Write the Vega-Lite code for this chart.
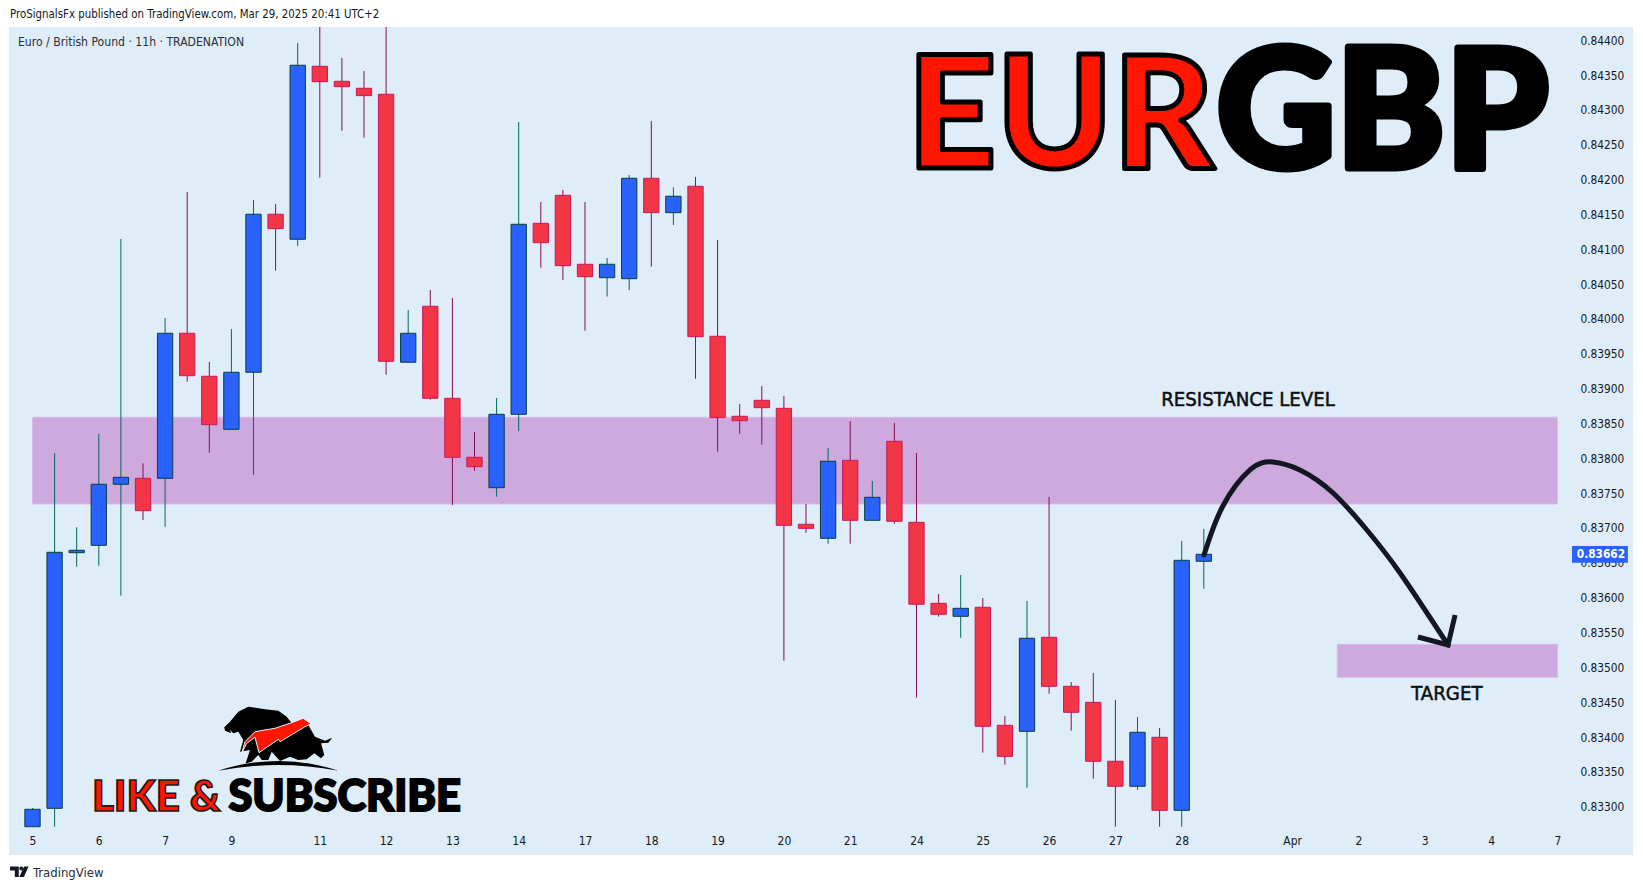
{"$schema":"https://vega.github.io/schema/vega-lite/v6.json","width":1624,"height":828,"padding":{"left":9,"top":27,"right":10,"bottom":35},"autosize":{"type":"none"},"background":"#ffffff","view":{"fill":"#dfedf9","stroke":null},
"datasets":{
"candles":[
{"i":0,"dir":"up","open":0.832713,"close":0.832963,"high":0.832981,"low":0.832713},
{"i":1,"dir":"up","open":0.832977,"close":0.836651,"high":0.838072,"low":0.832713},
{"i":2,"dir":"up","open":0.836645,"close":0.83668,"high":0.83701,"low":0.836444},
{"i":3,"dir":"up","open":0.836751,"close":0.837627,"high":0.838349,"low":0.836459},
{"i":4,"dir":"up","open":0.837627,"close":0.837727,"high":0.841147,"low":0.836028},
{"i":5,"dir":"down","open":0.837713,"close":0.837248,"high":0.837928,"low":0.837114},
{"i":6,"dir":"up","open":0.837713,"close":0.839794,"high":0.840013,"low":0.837018},
{"i":7,"dir":"down","open":0.839794,"close":0.839185,"high":0.841822,"low":0.839099},
{"i":8,"dir":"down","open":0.839177,"close":0.838482,"high":0.839382,"low":0.83808},
{"i":9,"dir":"up","open":0.838416,"close":0.839234,"high":0.839855,"low":0.838416},
{"i":10,"dir":"up","open":0.839234,"close":0.841502,"high":0.841707,"low":0.837765},
{"i":11,"dir":"down","open":0.841502,"close":0.841295,"high":0.841649,"low":0.840692},
{"i":12,"dir":"up","open":0.841143,"close":0.84364,"high":0.84396,"low":0.841047},
{"i":13,"dir":"down","open":0.843625,"close":0.843404,"high":0.844189,"low":0.842027},
{"i":14,"dir":"down","open":0.84341,"close":0.843333,"high":0.843745,"low":0.842701},
{"i":15,"dir":"down","open":0.84331,"close":0.843204,"high":0.843558,"low":0.842601},
{"i":16,"dir":"down","open":0.843224,"close":0.839392,"high":0.844189,"low":0.8392},
{"i":17,"dir":"up","open":0.839378,"close":0.839794,"high":0.840128,"low":0.839378},
{"i":18,"dir":"down","open":0.840181,"close":0.838861,"high":0.840415,"low":0.838841},
{"i":19,"dir":"down","open":0.838861,"close":0.838014,"high":0.8403,"low":0.83733},
{"i":20,"dir":"down","open":0.838014,"close":0.837879,"high":0.838377,"low":0.837818},
{"i":21,"dir":"up","open":0.837578,"close":0.838631,"high":0.838865,"low":0.837449},
{"i":22,"dir":"up","open":0.838631,"close":0.841358,"high":0.842826,"low":0.838392},
{"i":23,"dir":"down","open":0.841372,"close":0.841094,"high":0.841678,"low":0.840735},
{"i":24,"dir":"down","open":0.841774,"close":0.840764,"high":0.84185,"low":0.840559},
{"i":25,"dir":"down","open":0.840784,"close":0.840606,"high":0.841678,"low":0.839831},
{"i":26,"dir":"up","open":0.840592,"close":0.840784,"high":0.840874,"low":0.840319},
{"i":27,"dir":"up","open":0.840577,"close":0.842018,"high":0.842066,"low":0.840415},
{"i":28,"dir":"down","open":0.842018,"close":0.841525,"high":0.842841,"low":0.84075},
{"i":29,"dir":"up","open":0.841525,"close":0.84176,"high":0.841889,"low":0.841348},
{"i":30,"dir":"down","open":0.841903,"close":0.839745,"high":0.842037,"low":0.839142},
{"i":31,"dir":"down","open":0.839751,"close":0.838583,"high":0.841133,"low":0.838095},
{"i":32,"dir":"down","open":0.838603,"close":0.838539,"high":0.838779,"low":0.838353},
{"i":33,"dir":"down","open":0.838832,"close":0.838726,"high":0.839037,"low":0.838195},
{"i":34,"dir":"down","open":0.838717,"close":0.837038,"high":0.838894,"low":0.835095},
{"i":35,"dir":"down","open":0.837053,"close":0.836995,"high":0.837344,"low":0.836932},
{"i":36,"dir":"up","open":0.836852,"close":0.837957,"high":0.838148,"low":0.836774},
{"i":37,"dir":"down","open":0.837971,"close":0.83711,"high":0.838535,"low":0.836774},
{"i":38,"dir":"up","open":0.83711,"close":0.83744,"high":0.837674,"low":0.83711},
{"i":39,"dir":"down","open":0.838244,"close":0.837096,"high":0.838506,"low":0.837061},
{"i":40,"dir":"down","open":0.837081,"close":0.835905,"high":0.838076,"low":0.834564},
{"i":41,"dir":"down","open":0.835919,"close":0.835761,"high":0.836052,"low":0.835727},
{"i":42,"dir":"up","open":0.835732,"close":0.835847,"high":0.836325,"low":0.835425},
{"i":43,"dir":"down","open":0.835862,"close":0.834154,"high":0.835995,"low":0.833775},
{"i":44,"dir":"down","open":0.834168,"close":0.833723,"high":0.834302,"low":0.833603},
{"i":45,"dir":"up","open":0.834082,"close":0.835417,"high":0.835952,"low":0.833273},
{"i":46,"dir":"down","open":0.835431,"close":0.834728,"high":0.837445,"low":0.834622},
{"i":47,"dir":"down","open":0.834728,"close":0.834355,"high":0.83479,"low":0.834091},
{"i":48,"dir":"down","open":0.834498,"close":0.833652,"high":0.834919,"low":0.833402},
{"i":49,"dir":"down","open":0.833652,"close":0.833293,"high":0.834531,"low":0.832713},
{"i":50,"dir":"up","open":0.833293,"close":0.834068,"high":0.834287,"low":0.833244},
{"i":51,"dir":"down","open":0.833996,"close":0.832948,"high":0.834129,"low":0.832713},
{"i":52,"dir":"up","open":0.832948,"close":0.836536,"high":0.836813,"low":0.832713},
{"i":53,"dir":"up","open":0.836522,"close":0.836622,"high":0.836985,"low":0.836128}],
"zones":[{"i":0,"i2":69,"v":0.838588,"v2":0.837344},{"i":59.04,"i2":69,"v":0.83533,"v2":0.834857}],
"arc":[{"i":53.01,"v":0.836612},{"i":53.84,"v":0.837301},{"i":55.09,"v":0.837832},{"i":56.13,"v":0.837947},{"i":57.35,"v":0.837832},{"i":58.85,"v":0.837502},{"i":60.38,"v":0.836971},{"i":61.88,"v":0.836354},{"i":64.05,"v":0.835321}],
"head":[{"i":62.69,"v":0.835435},{"i":64.05,"v":0.835321},{"i":64.37,"v":0.835751}],
"price":[{"i":69.66,"i2":72.19,"v":0.836741,"v2":0.836502}]
},
"encoding":{
"x":{"field":"i","type":"quantitative","title":null,"scale":{"domain":[-1.0633,72.4208],"nice":false,"zero":false,"padding":0},"axis":{"values":[0,3,6,9,13,16,19,22,25,28,31,34,37,40,43,46,49,52,57,60,63,66,69],"labelExpr":"{'0':'5','3':'6','6':'7','9':'9','13':'11','16':'12','19':'13','22':'14','25':'17','28':'18','31':'19','34':'20','37':'21','40':'24','43':'25','46':'26','49':'27','52':'28','57':'Apr','60':'2','63':'3','66':'4','69':'7'}[''+datum.value]","grid":false,"domain":false,"ticks":false,"offset":-14.3,"labelPadding":0,"labelBaseline":"middle","labelAlign":"center","labelOverlap":false,"labelBound":false,"labelFlush":false,"labelFont":"DejaVu Sans Condensed","labelFontSize":12,"labelColor":"#131722","title":null}},
"y":{"field":"v","type":"quantitative","title":null,"scale":{"domain":[0.832307,0.844189],"nice":false,"zero":false},"axis":{"orient":"right","values":[0.833,0.8335,0.834,0.8345,0.835,0.8355,0.836,0.8365,0.837,0.8375,0.838,0.8385,0.839,0.8395,0.84,0.8405,0.841,0.8415,0.842,0.8425,0.843,0.8435,0.844],"format":".5f","grid":false,"domain":false,"ticks":false,"offset":-53,"labelPadding":0,"labelAlign":"left","labelBaseline":"middle","labelOverlap":false,"labelBound":false,"labelFlush":false,"labelFont":"DejaVu Sans Condensed","labelFontSize":11.8,"labelColor":"#131722","title":null}}
},
"layer":[
{"data":{"name":"zones"},"mark":{"type":"rect","fill":"#cda9de","stroke":"#dcb8ee","strokeWidth":1},"encoding":{"x2":{"field":"i2"},"y2":{"field":"v2"}}},
{"data":{"name":"candles"},"mark":{"type":"rule","strokeWidth":1},"encoding":{"y":{"field":"high","type":"quantitative","title":null,"scale":{"domain":[0.832307,0.844189],"nice":false,"zero":false},"axis":{"orient":"right","values":[0.833,0.8335,0.834,0.8345,0.835,0.8355,0.836,0.8365,0.837,0.8375,0.838,0.8385,0.839,0.8395,0.84,0.8405,0.841,0.8415,0.842,0.8425,0.843,0.8435,0.844],"format":".5f","grid":false,"domain":false,"ticks":false,"offset":-53,"labelPadding":0,"labelAlign":"left","labelBaseline":"middle","labelOverlap":false,"labelBound":false,"labelFlush":false,"labelFont":"DejaVu Sans Condensed","labelFontSize":11.8,"labelColor":"#131722","title":null}},"y2":{"field":"low"},"color":{"field":"dir","type":"nominal","legend":null,"scale":{"domain":["up","down"],"range":["#00695c","#880e4f"]}}}},
{"data":{"name":"candles"},"mark":{"type":"bar","orient":"vertical","size":15.3,"strokeWidth":1},"encoding":{"y":{"field":"open","type":"quantitative","title":null,"scale":{"domain":[0.832307,0.844189],"nice":false,"zero":false},"axis":{"orient":"right","values":[0.833,0.8335,0.834,0.8345,0.835,0.8355,0.836,0.8365,0.837,0.8375,0.838,0.8385,0.839,0.8395,0.84,0.8405,0.841,0.8415,0.842,0.8425,0.843,0.8435,0.844],"format":".5f","grid":false,"domain":false,"ticks":false,"offset":-53,"labelPadding":0,"labelAlign":"left","labelBaseline":"middle","labelOverlap":false,"labelBound":false,"labelFlush":false,"labelFont":"DejaVu Sans Condensed","labelFontSize":11.8,"labelColor":"#131722","title":null}},"y2":{"field":"close"},"fill":{"field":"dir","type":"nominal","legend":null,"scale":{"domain":["up","down"],"range":["#2962ff","#f23645"]}},"stroke":{"field":"dir","type":"nominal","legend":null,"scale":{"domain":["up","down"],"range":["#063f3a","#c8175c"]}}}},
{"data":{"name":"arc"},"mark":{"type":"line","interpolate":"natural","stroke":"#131722","strokeWidth":5,"strokeCap":"round"}},
{"data":{"name":"head"},"mark":{"type":"line","stroke":"#131722","strokeWidth":5,"strokeCap":"butt","strokeJoin":"miter"}},
{"data":{"name":"price"},"mark":{"type":"rect","fill":"#2962ff"},"encoding":{"x2":{"field":"i2"},"y2":{"field":"v2"}}},
{"data":{"values":[{"i":70.97,"v":0.836622,"t":"0.83662"}]},"mark":{"type":"text","font":"DejaVu Sans Condensed","fontSize":11.8,"fontWeight":"bold","fill":"#ffffff","align":"center","baseline":"middle"},"encoding":{"text":{"field":"t"}}},
{"data":{"values":[{"i":-1.018,"v":0.844362,"t":"ProSignalsFx published on TradingView.com, Mar 29, 2025 20:41 UTC+2"}]},"mark":{"type":"text","font":"DejaVu Sans Condensed","fontSize":11.4,"fill":"#131722","align":"left","baseline":"middle"},"encoding":{"text":{"field":"t"}}},
{"data":{"values":[{"i":-0.656,"v":0.843979,"t":"Euro / British Pound · 11h · TRADENATION"}]},"mark":{"type":"text","font":"DejaVu Sans Condensed","fontSize":12.1,"fill":"#2a2e39","align":"left","baseline":"middle"},"encoding":{"text":{"field":"t"}}},
{"data":{"values":[{"i":0.023,"v":0.832049,"t":"TradingView"}]},"mark":{"type":"text","font":"DejaVu Sans Condensed","fontSize":13,"fill":"#2a2e39","align":"left","baseline":"middle"},"encoding":{"text":{"field":"t"}}},
{"data":{"values":[{"i":-0.597,"v":0.832063}]},"mark":{"type":"point","shape":"M-9.3,-5.5H-0.5V5H-4.5V-1.5H-9.3Z M0,-3.5a2,2 0 1 0 4,0a2,2 0 1 0 -4,0Z M9.3,-5.5L4.5,5H0L4.8,-5.5Z","size":4,"filled":true,"opacity":1,"fill":"#131722","strokeWidth":0}},
{"data":{"values":[{"i":55,"v":0.838837,"t":"RESISTANCE LEVEL"},{"i":64,"v":0.834617,"t":"TARGET"}]},"mark":{"type":"text","font":"DejaVu Sans Condensed","fontSize":20.2,"fill":"#0b0e14","stroke":"#0b0e14","strokeWidth":0.5,"align":"center","baseline":"middle"},"encoding":{"text":{"field":"t"}}},
{"data":{"values":[{"i":39.57,"v":0.842167,"t":"EUR"}]},"mark":{"type":"text","font":"Lato","fontWeight":900,"fontSize":156,"fill":"#ff1500","stroke":"#000000","strokeWidth":5,"strokeJoin":"round","align":"left","baseline":"alphabetic"},"encoding":{"text":{"field":"t"}}},
{"data":{"values":[{"i":68.61,"v":0.842167,"t":"GBP"}]},"mark":{"type":"text","font":"Lato","fontWeight":900,"fontSize":165,"fill":"#000000","stroke":"#000000","strokeWidth":7,"strokeJoin":"round","align":"right","baseline":"alphabetic"},"encoding":{"text":{"field":"t"}}},
{"data":{"values":[{"i":2.69,"v":0.832938,"t":"LIKE &"}]},"mark":{"type":"text","font":"Lato","fontWeight":900,"fontSize":42,"fill":"#ff1500","stroke":"#1a1a1a","strokeWidth":1.6,"align":"left","baseline":"alphabetic"},"encoding":{"text":{"field":"t"}}},
{"data":{"values":[{"i":19.39,"v":0.832938,"t":"SUBSCRIBE"}]},"mark":{"type":"text","font":"Lato","fontWeight":900,"fontSize":43.4,"fill":"#000000","stroke":"#000000","strokeWidth":2,"align":"right","baseline":"alphabetic"},"encoding":{"text":{"field":"t"}}},
{"data":{"values":[{"i":11.154,"v":0.833972}]},"mark":{"type":"point","shape":"M-54.7,-11.7L-49,-17.3L-40.7,-27.3L-30.7,-32.3L-14,-29.7L-0.7,-28.3L7.7,-22.3L14.3,-14L29.3,-14L36,-2.3L46,1.7L53.3,-1.3L49.3,3.7L42,4.3L45.3,16L42,19.3L35.3,14.3L27.7,20.3L19.3,21L11,17.7L1,22L-7.3,12.7L-10.7,21L-17.3,21L-20.7,16L-27.3,22.7L-33.3,24.3L-29,11L-39,12.7L-35.7,1L-40.7,-7.3L-45.7,-5.7L-49,-9L-48,-5.7L-54,-8.3Z M-60.7,31.7Q-0.7,12.3 59.3,31.7Q-0.7,20.3 -60.7,31.7Z","size":4,"filled":true,"opacity":1,"fill":"#000000","strokeWidth":0}},
{"data":{"values":[{"i":11.154,"v":0.833972}]},"mark":{"type":"point","shape":"M-37.3,14.3L-34,2.7L-24,-7.3L-4,-10.7L11,-15.7L24.3,-20.7L32,-15L26,-12.3L1,2.7L-0.7,0.3L-20,13.7L-24,-1.7L-32.3,4.3Z","size":4,"filled":true,"opacity":1,"fill":"#ff1500","stroke":"#eef5fb","strokeWidth":1}}
]}
